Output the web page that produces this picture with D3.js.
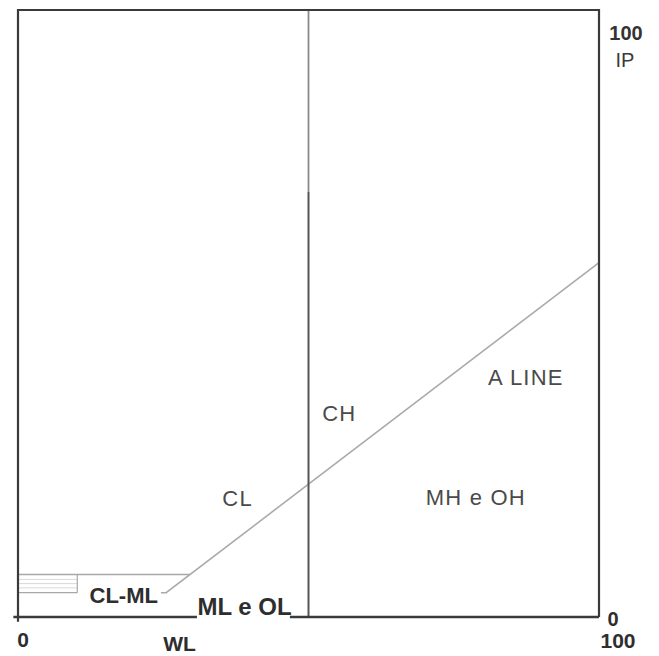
<!DOCTYPE html>
<html>
<head>
<meta charset="utf-8">
<script src="https://cdn.jsdelivr.net/npm/d3@7/dist/d3.min.js"></script>
<style>
  html, body { margin: 0; padding: 0; background: #fff; }
  svg { display: block; }
  text { font-family: "Liberation Sans", Arial, sans-serif; }
</style>
</head>
<body>
<svg id="chart" width="659" height="656"></svg>
<script>
// ---- data ----
const wlDomain = [0, 100];
const ipDomain = [0, 100];
const wlTickLabels = ["0", "100"];
const ipTickLabels = ["0", "100"];
const wlAxisTitle = "WL";
const ipAxisTitle = "IP";
// A line points [LL, PI]
const aLinePoints = [[24.6, 4], [25.5, 4], [100, 58.4]];
// boundary between low and high plasticity
const llBoundary = 50;
// CL-ML band limits (PI)
const bandLower = 4;
const bandUpper = 7;
const bandUpperEnd = 29.6;
const bandLowerEnd = 10.2;
const bandHatch = [4.8, 5.5, 6.2];
// zone labels [text, LL, PI]
const zoneNames = ["CL", "CH", "A LINE", "MH e OH", "CL-ML", "ML e OL"];
const zoneLL = [37.8, 55.3, 87.4, 78.8, 18.2, 39.0];
const zonePI = [19.6, 33.6, 39.6, 19.8, 3.6, 1.7];

// ---- drawing ----
const svg = d3.select("#chart");
const x = d3.scaleLinear().domain(wlDomain).range([18, 599]);
const y = d3.scaleLinear().domain(ipDomain).range([617, 10]);
const line = d3.line().x(d => x(d[0])).y(d => y(d[1]));

const frameColor = "#3a3a3a";

// CL-ML band hatching
bandHatch.forEach(p => {
  svg.append("path").attr("d", line([[0, p], [bandLowerEnd, p]]))
    .attr("stroke", "#d8d8d8").attr("stroke-width", 1).attr("fill", "none");
});
svg.append("path").attr("d", line([[0, bandUpper], [bandUpperEnd, bandUpper]]))
  .attr("stroke", "#a8a8a8").attr("stroke-width", 1.3).attr("fill", "none");
svg.append("path").attr("d", line([[0, bandLower], [bandLowerEnd, bandLower]]))
  .attr("stroke", "#a8a8a8").attr("stroke-width", 1.3).attr("fill", "none");
svg.append("path").attr("d", line([[bandLowerEnd, bandLower], [bandLowerEnd, bandUpper]]))
  .attr("stroke", "#999").attr("stroke-width", 1).attr("fill", "none");

// A line
svg.append("path").attr("d", line(aLinePoints))
  .attr("stroke", "#aaaaaa").attr("stroke-width", 1.6).attr("fill", "none");

// LL = 50 line
svg.append("path").attr("d", line([[llBoundary, 0], [llBoundary, 70]]))
  .attr("stroke", "#555").attr("stroke-width", 2).attr("fill", "none");
svg.append("path").attr("d", line([[llBoundary, 70], [llBoundary, 100]]))
  .attr("stroke", "#8a8a8a").attr("stroke-width", 1.8).attr("fill", "none");

// frame: left, top, right
svg.append("path").attr("d", line([[0, -0.8], [0, 100], [100, 100], [100, 0]]))
  .attr("stroke", frameColor).attr("stroke-width", 2.2).attr("fill", "none");
// bottom, interrupted by the ML e OL label
svg.append("path").attr("d", line([[-0.8, 0], [30.8, 0]]))
  .attr("stroke", frameColor).attr("stroke-width", 2.4).attr("fill", "none");
svg.append("path").attr("d", line([[46.8, 0], [100, 0]]))
  .attr("stroke", frameColor).attr("stroke-width", 2.4).attr("fill", "none");

// zone labels
zoneNames.forEach((n, i) => {
  const bold = (n === "CL-ML" || n === "ML e OL");
  svg.append("text")
    .attr("x", x(zoneLL[i])).attr("y", y(zonePI[i]))
    .attr("dy", "0.36em")
    .attr("text-anchor", "middle")
    .attr("font-size", bold ? (n === "ML e OL" ? 24 : 22) : 22)
    .attr("font-weight", bold ? "bold" : "normal")
    .attr("letter-spacing", bold ? 0 : 1.2)
    .attr("fill", bold ? "#2e2e2e" : "#4a4a4a")
    .text(n);
});

// bottom tick labels (WL)
svg.append("text").attr("x", x(wlDomain[0]) + 5).attr("y", 647)
  .attr("text-anchor", "middle").attr("font-size", 21).attr("font-weight", "bold")
  .attr("fill", "#2e2e2e").text(wlTickLabels[0]);
svg.append("text").attr("x", x(wlDomain[1]) + 19).attr("y", 648)
  .attr("text-anchor", "middle").attr("font-size", 21).attr("font-weight", "bold")
  .attr("fill", "#2e2e2e").text(wlTickLabels[1]);
svg.append("text").attr("x", x(27.8)).attr("y", 651)
  .attr("text-anchor", "middle").attr("font-size", 21).attr("font-weight", "bold")
  .attr("fill", "#2e2e2e").text(wlAxisTitle);

// right tick labels (IP)
svg.append("text").attr("x", x(100) + 14).attr("y", y(ipDomain[0]) + 9)
  .attr("text-anchor", "middle").attr("font-size", 20).attr("font-weight", "bold")
  .attr("fill", "#2e2e2e").text(ipTickLabels[0]);
svg.append("text").attr("x", x(100) + 27).attr("y", y(ipDomain[1]) + 30)
  .attr("text-anchor", "middle").attr("font-size", 20).attr("font-weight", "bold")
  .attr("fill", "#333").text(ipTickLabels[1]);
svg.append("text").attr("x", x(100) + 26).attr("y", y(ipDomain[1]) + 57)
  .attr("text-anchor", "middle").attr("font-size", 20)
  .attr("fill", "#3a3a3a").text(ipAxisTitle);
</script>
</body>
</html>
